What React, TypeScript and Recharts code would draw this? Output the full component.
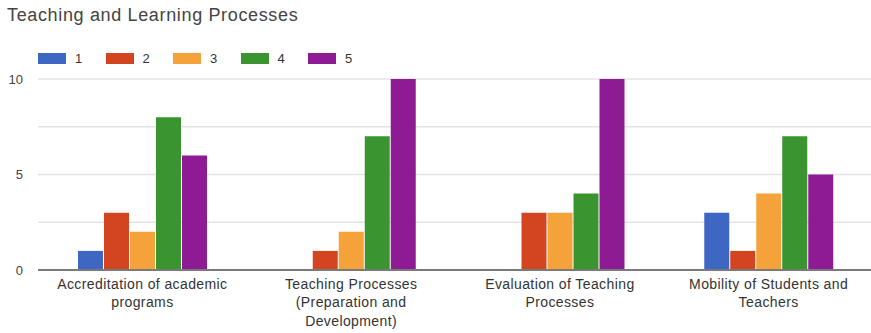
import { BarChart, Bar, XAxis, YAxis, CartesianGrid, Text } from 'recharts'

const categories = [
  'Accreditation of academic programs',
  'Teaching Processes (Preparation and Development)',
  'Evaluation of Teaching Processes',
  'Mobility of Students and Teachers',
]

const rating1 = [1, 0, 0, 3]
const rating2 = [3, 1, 3, 1]
const rating3 = [2, 2, 3, 4]
const rating4 = [8, 7, 4, 7]
const rating5 = [6, 10, 10, 5]

const yTicks = [0, 2.5, 5, 7.5, 10]

const SERIES = [
  { key: 'r1', name: '1', values: rating1, color: '#3e67c3' },
  { key: 'r2', name: '2', values: rating2, color: '#d24520' },
  { key: 'r3', name: '3', values: rating3, color: '#f5a23a' },
  { key: 'r4', name: '4', values: rating4, color: '#3a9530' },
  { key: 'r5', name: '5', values: rating5, color: '#8e1a94' },
]

const data = categories.map((name, i) => {
  const row: Record<string, string | number> = { name }
  SERIES.forEach((s) => { row[s.key] = s.values[i] })
  return row
})

const FONT = '"Liberation Sans", Arial, sans-serif'

function CategoryTick({ x, y, payload }: { x?: number; y?: number; payload?: { value: string } }) {
  return (
    <Text
      x={x}
      y={(y ?? 0) + 1}
      width={185}
      textAnchor="middle"
      verticalAnchor="start"
      lineHeight={18.5}
      fontSize={14}
      letterSpacing={0.4}
      fontFamily={FONT}
      fill="#333"
    >
      {payload?.value ?? ''}
    </Text>
  )
}

// legend drawn as plain html so it doesn't push the plot area down
function LegendRow() {
  return (
    <div
      style={{
        position: 'absolute', left: 38, top: 51, display: 'flex',
        fontFamily: FONT, fontSize: 13, color: '#333',
      }}
    >
      {SERIES.map((s) => (
        <div key={s.key} style={{ width: 67.5, display: 'flex', alignItems: 'center' }}>
          <span style={{ width: 28, height: 11, background: s.color, display: 'inline-block' }} />
          <span style={{ marginLeft: 9 }}>{s.name}</span>
        </div>
      ))}
    </div>
  )
}

export default function App() {
  return (
    <div style={{ position: 'fixed', left: 0, top: 0, width: 871, height: 333, overflow: 'hidden', background: '#fff' }}>
      <div
        style={{
          position: 'absolute', left: 7, top: 5, fontFamily: FONT, fontSize: 18,
          letterSpacing: 0.65, color: '#444',
        }}
      >
        Teaching and Learning Processes
      </div>
      <LegendRow />
      <BarChart
        width={875}
        height={333}
        data={data}
        margin={{ top: 79, right: 2, left: 0, bottom: 0 }}
        barSize={25}
        barGap={1}
      >
        <CartesianGrid vertical={false} stroke="#e3e3e3" strokeWidth={1.5} />
        <XAxis
          dataKey="name"
          height={63}
          interval={0}
          tick={<CategoryTick />}
          tickLine={false}
          axisLine={{ stroke: '#7a7a7a', strokeWidth: 2 }}
        />
        <YAxis
          width={38}
          domain={[0, 10]}
          ticks={yTicks}
          tickFormatter={(v: number) => (v % 5 === 0 ? String(v) : '')}
          tickLine={false}
          axisLine={false}
          tickSize={0}
          tickMargin={15}
          tick={{ fill: '#444', fontSize: 13, fontFamily: FONT }}
        />
        {SERIES.map((s) => (
          <Bar key={s.key} dataKey={s.key} name={s.name} fill={s.color} isAnimationActive={false} />
        ))}
      </BarChart>
    </div>
  )
}
